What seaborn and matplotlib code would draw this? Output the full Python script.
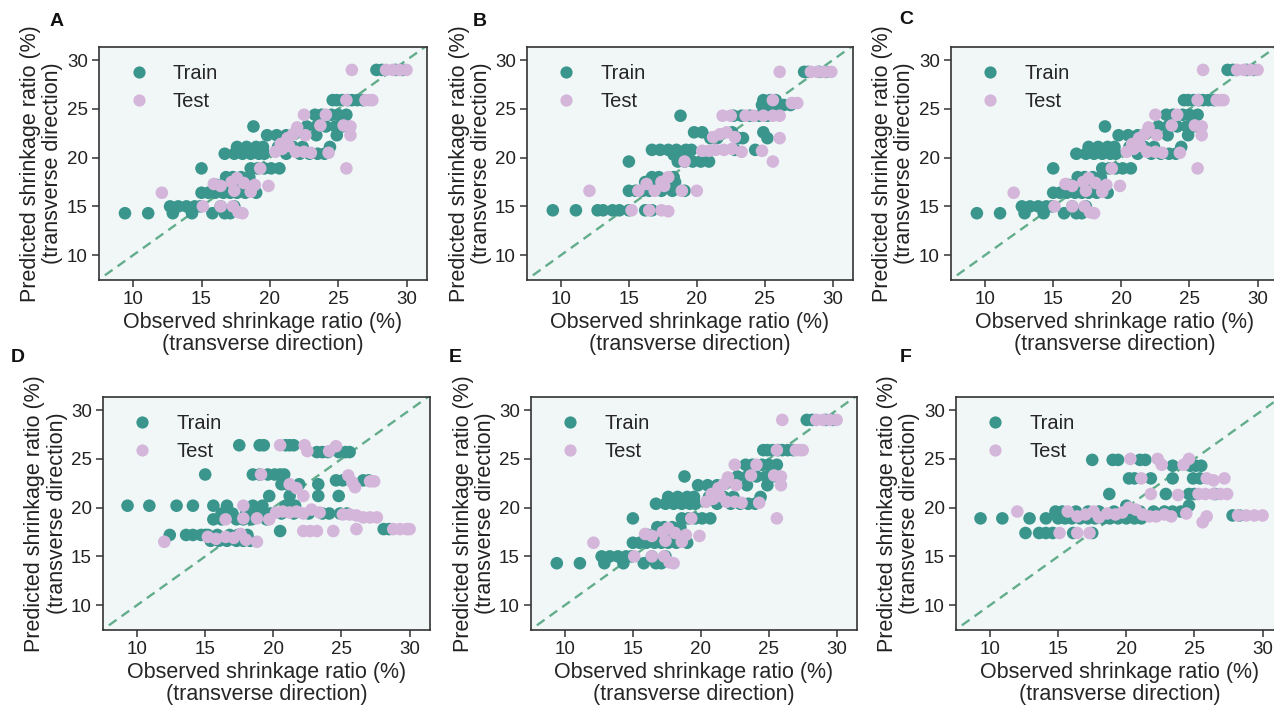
import matplotlib
matplotlib.use("Agg")
import matplotlib.pyplot as plt
from matplotlib.lines import Line2D
from matplotlib.transforms import offset_copy
import seaborn as sns
import pandas as pd

# ---------------- data ----------------
# Panels A, C and E show the same model output
ace_train_obs = [
    9.4, 11.1, 12.9, 14.3, 15.8, 16.7, 17.1,
    12.7, 13.3, 13.9, 14.5, 14.9, 16.4, 17.4,
    15.0, 15.5, 16.0, 16.6, 17.1, 17.6, 18.2, 19.0,
    16.1, 16.6, 17.2, 17.7, 18.4,
    16.8, 17.3, 17.9, 18.5,
    15.0, 18.6, 19.1, 19.6, 20.1, 20.7,
    16.7, 17.4, 18.0, 18.6, 19.2, 19.6, 21.2, 22.2, 22.9, 23.5, 24.0,
    17.6, 18.3, 19.0, 19.5, 20.6, 21.2, 21.7, 22.4, 24.4,
    19.8, 20.5, 21.2, 23.4, 24.9,
    18.8, 22.7, 23.4, 24.1, 24.8, 25.3,
    23.3, 23.8, 24.5, 25.0, 25.6,
    24.6, 24.9, 25.3, 25.7, 26.0, 26.4, 26.8,
    27.8, 28.2, 29.2, 29.7,
]
ace_train_pred = [
    14.3, 14.3, 14.3, 14.3, 14.3, 14.3, 14.3,
    15.0, 15.0, 15.0, 15.0, 15.0, 15.0, 15.0,
    16.4, 16.4, 16.4, 16.4, 16.4, 16.4, 16.4, 16.4,
    17.2, 17.2, 17.2, 17.2, 17.2,
    18.0, 18.0, 18.0, 18.0,
    18.9, 18.9, 18.9, 18.9, 18.9, 18.9,
    20.4, 20.4, 20.4, 20.4, 20.4, 20.4, 20.4, 20.4, 20.4, 20.4, 20.4,
    21.1, 21.1, 21.1, 21.1, 21.1, 21.1, 21.1, 21.1, 21.1,
    22.3, 22.3, 22.3, 22.3, 22.3,
    23.2, 23.2, 23.2, 23.2, 23.2, 23.2,
    24.4, 24.4, 24.4, 24.4, 24.4,
    25.9, 25.9, 25.9, 25.9, 25.9, 25.9, 25.9,
    29.0, 29.0, 29.0, 29.0,
]
ace_test_obs = [
    12.1, 15.1, 16.4, 17.3, 17.7, 18.0,
    15.9, 16.4, 17.2, 17.6, 18.1, 17.4, 18.6, 18.9, 19.9,
    19.3,
    20.4, 20.9, 21.4, 21.9, 22.5, 23.0, 24.3,
    20.8, 21.3, 21.7, 22.0, 22.6, 22.5, 24.1,
    23.7, 25.4, 25.9, 25.9, 25.6,
    25.6, 27.0, 27.3, 27.5,
    26.0, 28.5, 29.0, 29.5, 30.0,
]
ace_test_pred = [
    16.4, 15.0, 15.0, 15.0, 14.4, 14.3,
    17.3, 17.1, 17.5, 17.9, 17.4, 16.6, 16.5, 17.2, 17.1,
    18.9,
    20.6, 20.9, 21.2, 20.6, 20.6, 20.5, 20.5,
    21.4, 22.0, 22.4, 23.1, 22.3, 24.4, 24.4,
    23.3, 23.3, 23.2, 22.3, 18.9,
    25.9, 25.9, 25.9, 25.9,
    29.0, 29.0, 29.0, 29.0, 29.0,
]

b_train_obs = [
    9.4, 11.1, 12.7, 13.1, 13.8, 14.3, 15.0, 16.2, 16.7,
    15.0, 15.5, 16.0, 16.5, 17.4, 18.2, 19.1,
    16.2, 16.7, 17.2, 17.7, 18.4,
    16.7, 17.2, 18.3,
    15.0, 18.6, 19.1, 19.7, 20.3, 20.9,
    18.3, 18.8, 19.3,
    16.7, 17.3, 17.9, 18.5, 19.2, 19.6, 22.8, 24.3,
    19.8, 20.4, 22.6, 24.9,
    21.0, 21.5, 23.1, 23.4, 25.2,
    18.8, 22.7, 23.3, 23.9, 24.6, 25.2,
    24.8, 25.2, 25.6, 26.0, 26.4, 26.9,
    24.9, 25.4, 25.8,
    27.9, 28.2, 29.0, 29.5,
]
b_train_pred = [
    14.6, 14.6, 14.6, 14.6, 14.6, 14.6, 14.6, 14.6, 14.6,
    16.6, 16.6, 16.6, 16.6, 16.6, 16.6, 16.6,
    17.5, 17.5, 17.5, 17.5, 17.5,
    18.0, 18.0, 18.0,
    19.6, 19.6, 19.6, 19.6, 19.6, 19.6,
    20.3, 20.3, 20.3,
    20.8, 20.8, 20.8, 20.8, 20.8, 20.8, 20.8, 20.8,
    22.6, 22.6, 22.6, 22.6,
    22.0, 22.0, 22.0, 22.0, 22.0,
    24.3, 24.3, 24.3, 24.3, 24.3, 24.3,
    25.4, 25.4, 25.4, 25.4, 25.4, 25.4,
    25.9, 25.9, 25.9,
    28.8, 28.8, 28.8, 28.8,
]
b_test_obs = [
    12.1, 15.2, 16.5, 17.4, 17.9,
    15.7, 16.3, 16.9, 17.4, 17.9, 17.6, 18.9, 20.0,
    19.1,
    20.4, 20.9, 21.4, 22.0, 22.6, 23.3, 24.8,
    21.2, 21.7, 22.2, 22.8,
    21.9, 22.5, 23.6, 24.2, 24.9, 25.6, 26.1,
    26.1, 25.6,
    25.6, 27.0, 27.4,
    26.1, 28.4, 28.9, 29.4, 29.9,
]
b_test_pred = [
    16.6, 14.6, 14.6, 14.6, 14.5,
    16.6, 17.3, 16.6, 17.5, 18.0, 17.1, 16.6, 16.6,
    19.6,
    20.7, 20.7, 20.8, 20.8, 20.9, 20.6, 20.7,
    22.1, 22.4, 22.6, 22.1,
    24.3, 24.3, 24.3, 24.3, 24.3, 24.3, 24.3,
    22.0, 19.6,
    25.9, 25.6, 25.6,
    28.8, 28.8, 28.8, 28.8, 28.8,
]

d_train_obs = [
    9.3, 10.9, 12.9, 14.1, 15.6, 16.6, 18.5, 19.2, 20.9, 21.6,
    17.5, 19.0, 19.3, 20.9, 21.2, 21.5,
    23.2, 23.6, 24.0, 24.8, 25.3, 25.6,
    15.0, 18.5, 19.0, 19.6, 20.1, 20.5, 20.8,
    20.6, 21.0, 21.9, 23.3,
    24.6, 25.1, 26.6, 27.0,
    19.7, 21.2, 23.3, 24.8,
    16.2, 17.0, 18.0, 18.7, 19.3, 19.8, 20.6, 21.5, 22.6, 23.6, 24.1, 24.9, 25.4,
    15.6, 16.2, 17.3, 17.8, 18.4, 19.5,
    12.4, 13.6, 14.1, 15.0, 20.5, 28.1, 28.5,
    14.7, 15.2, 15.9, 16.8, 17.4, 18.1,
    15.4, 16.0, 16.6, 17.3, 17.8, 18.3,
]
d_train_pred = [
    20.2, 20.2, 20.2, 20.2, 20.2, 20.2, 20.2, 20.2, 20.2, 20.2,
    26.4, 26.4, 26.4, 26.4, 26.4, 26.4,
    25.7, 25.7, 25.7, 25.7, 25.7, 25.7,
    23.4, 23.4, 23.4, 23.4, 23.4, 23.4, 23.4,
    22.4, 22.4, 22.4, 22.4,
    22.8, 22.8, 22.8, 22.8,
    21.2, 21.2, 21.2, 21.2,
    19.4, 19.4, 19.4, 19.4, 19.4, 19.4, 19.4, 19.4, 19.4, 19.4, 19.4, 19.4, 19.4,
    18.8, 18.8, 18.8, 18.8, 18.8, 18.8,
    17.2, 17.2, 17.2, 17.2, 17.6, 17.8, 17.8,
    17.2, 17.2, 17.2, 17.2, 17.2, 17.2,
    16.6, 16.6, 16.6, 16.6, 16.6, 16.6,
]
d_test_obs = [
    12.0, 15.2, 15.8, 16.5, 17.1, 17.6, 18.0, 18.8,
    16.5, 17.8, 17.8, 18.8, 19.7,
    20.2, 20.7, 21.2, 21.7, 22.2, 22.8, 23.4,
    25.1, 25.6, 26.1, 26.6, 27.1, 27.6,
    22.2, 22.7, 23.2, 24.4, 26.1, 28.8, 29.3, 29.8, 30.0,
    19.1, 21.2, 21.7, 22.2,
    25.5, 25.8, 26.0, 27.1, 27.4,
    20.5, 22.3, 22.5, 24.1, 24.6,
]
d_test_pred = [
    16.5, 17.0, 16.8, 17.0, 16.9, 17.3, 16.7, 16.5,
    18.8, 18.9, 20.2, 18.9, 18.8,
    19.5, 19.6, 19.5, 19.6, 19.4, 19.8, 19.5,
    19.3, 19.3, 19.2, 19.0, 19.0, 19.0,
    17.6, 17.6, 17.6, 17.6, 17.8, 17.8, 17.8, 17.8, 17.8,
    23.4, 22.4, 22.0, 21.2,
    23.3, 22.6, 22.1, 22.7, 22.7,
    26.4, 26.4, 25.8, 25.8, 26.3,
]

f_train_obs = [
    9.3, 10.9, 12.9, 14.1, 15.0, 15.5, 16.0, 16.6, 17.2, 17.7, 18.3, 18.8, 19.4, 20.0, 20.6, 21.1,
    14.8, 15.3, 16.3, 17.2, 18.0, 19.1, 20.0, 21.0, 22.0, 22.8, 23.4, 24.0,
    12.6, 13.6, 14.1, 14.6, 16.1, 17.5,
    17.5, 19.0, 19.4, 21.0, 21.4,
    23.4, 24.7, 25.1, 25.5,
    20.2, 20.6, 21.8, 23.4, 24.9, 25.4,
    18.75, 22.9, 24.6, 25.0, 26.5,
    24.6, 20.0,
    27.8, 28.3,
]
f_train_pred = [
    18.9, 18.9, 18.9, 18.9, 18.9, 18.9, 18.9, 18.9, 18.9, 18.9, 18.9, 18.9, 18.9, 18.9, 18.9, 18.9,
    19.6, 19.6, 19.6, 19.6, 19.6, 19.6, 19.6, 19.6, 19.6, 19.6, 19.6, 19.6,
    17.4, 17.4, 17.4, 17.4, 17.4, 17.4,
    24.9, 24.9, 24.9, 24.9, 24.9,
    24.3, 24.3, 24.3, 24.3,
    23.0, 23.0, 23.0, 23.0, 23.0, 23.0,
    21.4, 21.4, 21.4, 21.4, 21.4,
    20.2, 20.2,
    19.2, 19.2,
]
f_test_obs = [
    12.0, 15.1, 16.4, 17.3,
    15.7, 16.4, 17.0, 17.6, 18.0, 18.6, 19.2, 19.7, 20.2, 20.7, 21.2, 21.7, 22.2, 22.8, 23.3, 24.4, 25.6, 25.9,
    28.2, 28.8, 29.4, 30.0,
    21.8, 23.8, 25.3, 25.8, 26.4, 26.9, 27.4,
    21.1, 25.9, 26.4, 27.2,
    20.3, 22.3, 22.6, 24.2, 24.6,
]
f_test_pred = [
    19.6, 17.4, 17.4, 17.4,
    19.6, 19.1, 19.3, 19.6, 19.0, 19.4, 19.3, 19.5, 20.0, 19.8, 19.3, 19.1, 19.1, 19.3, 19.1, 19.4, 18.5, 19.1,
    19.2, 19.2, 19.2, 19.2,
    21.4, 21.3, 21.4, 21.4, 21.4, 21.4, 21.4,
    23.0, 23.0, 22.8, 23.0,
    25.0, 25.0, 24.4, 24.4, 25.0,
]

panel_letters = ["A", "B", "C", "D", "E", "F"]
series_names = ["Train", "Test"]
x_ticks = [10, 15, 20, 25, 30]
y_ticks = [10, 15, 20, 25, 30]
x_label = "Observed shrinkage ratio (%)\n(transverse direction)"
y_label_line1 = "Predicted shrinkage ratio (%)"
y_label_line2 = "(transverse direction)"

panel_data = {
    "A": (ace_train_obs, ace_train_pred, ace_test_obs, ace_test_pred),
    "B": (b_train_obs, b_train_pred, b_test_obs, b_test_pred),
    "C": (ace_train_obs, ace_train_pred, ace_test_obs, ace_test_pred),
    "D": (d_train_obs, d_train_pred, d_test_obs, d_test_pred),
    "E": (ace_train_obs, ace_train_pred, ace_test_obs, ace_test_pred),
    "F": (f_train_obs, f_train_pred, f_test_obs, f_test_pred),
}

# ---------------- styling ----------------
sns.set_style("ticks")
plt.rcParams["font.family"] = ["Liberation Sans", "DejaVu Sans"]

TRAIN_C = "#3a968c"
TEST_C = "#d4b6da"
BG = "#f1f6f7"
DIAG_C = "#62ad8c"
SPINE_C = "#333333"

W, H = 1274, 708
fig = plt.figure(figsize=(W / 100, H / 100), dpi=100)

# axes boxes in pixels: left, top, right, bottom
boxes = {
    "A": (99, 47, 427, 280),
    "B": (527, 47, 853, 280),
    "C": (951, 47, 1278, 280),
    "D": (103, 397, 430, 630),
    "E": (531, 397, 857, 630),
    "F": (956, 397, 1283, 630),
}
letter_pos = {
    "A": (57, 22), "B": (480, 22), "C": (906, 20),
    "D": (18, 357), "E": (455, 357), "F": (906, 357),
}

for key in panel_letters:
    l, t, r, b = boxes[key]
    ax = fig.add_axes([l / W, 1 - b / H, (r - l) / W, (b - t) / H])
    ax.set_facecolor(BG)
    tr_x, tr_y, te_x, te_y = panel_data[key]
    df = pd.DataFrame({
        "obs": list(tr_x) + list(te_x),
        "pred": list(tr_y) + list(te_y),
        "set": [series_names[0]] * len(tr_x) + [series_names[1]] * len(te_x),
    })
    sns.scatterplot(data=df, x="obs", y="pred", hue="set",
                    palette={"Train": TRAIN_C, "Test": TEST_C},
                    s=82, linewidth=0, alpha=1.0, legend=False, ax=ax, zorder=3)
    ax.plot([7.0, 32.0], [7.0, 32.0], linestyle=(0, (4, 2.6)), color=DIAG_C,
            lw=1.7, zorder=2)
    ax.set_xlim(7.5, 31.5)
    ax.set_ylim(7.45, 31.35)
    ax.set_xticks(x_ticks)
    ax.set_yticks(y_ticks)
    ax.set_xlabel(x_label, fontsize=15.5, labelpad=3, linespacing=1.05)
    ax.set_ylabel("")
    # two-line y label, drawn as two texts left of the axis
    for txt, off in ((y_label_line1, -68), (y_label_line2, -46)):
        trans = offset_copy(ax.transAxes, fig=fig, x=off, y=0, units="dots")
        ax.text(0, 0.5, txt, transform=trans, rotation=90, ha="center",
                va="center", fontsize=15.5, color="#222222")
    ax.tick_params(axis="both", labelsize=13.5, length=5, width=1.1,
                   pad=3, color=SPINE_C, labelcolor="#222222")
    for sp in ax.spines.values():
        sp.set_visible(True)
        sp.set_color(SPINE_C)
        sp.set_linewidth(1.2)

    handles = [
        Line2D([], [], linestyle="none", marker="o", markersize=8.8,
               markerfacecolor=TRAIN_C, markeredgewidth=0, label=series_names[0]),
        Line2D([], [], linestyle="none", marker="o", markersize=8.8,
               markerfacecolor=TEST_C, markeredgewidth=0, label=series_names[1]),
    ]
    ax.legend(handles=handles, loc="upper left", bbox_to_anchor=(0.09, 0.925),
              frameon=False, fontsize=14.5, handlelength=1.0,
              handletextpad=1.2, labelspacing=0.42, borderpad=0,
              borderaxespad=0)

    lx, ly = letter_pos[key]
    fig.text(lx / W, 1 - ly / H, key, fontsize=14, fontweight="bold",
             ha="center", va="center", color="#111111")

fig.savefig("out.png", dpi=100)
